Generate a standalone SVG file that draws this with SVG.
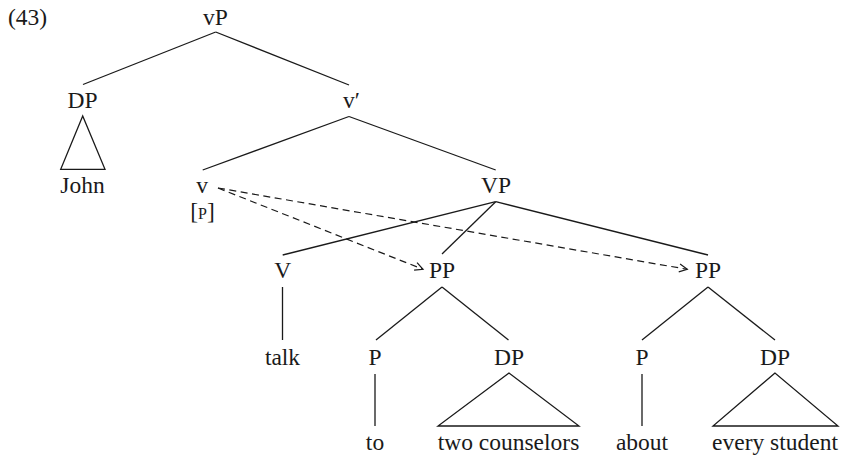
<svg xmlns="http://www.w3.org/2000/svg" width="851" height="456" viewBox="0 0 851 456" font-family="'Liberation Serif', 'Times New Roman', serif">
<defs>
<style>
text{font-family:'Liberation Serif','Times New Roman',serif;font-size:23.5px;fill:#1a1a1a;text-anchor:middle}
.edge{stroke:#1a1a1a;stroke-width:1.3;fill:none}
.dash{stroke:#1a1a1a;stroke-width:1.2;fill:none;stroke-dasharray:7 4.5}
.tri{stroke:#1a1a1a;stroke-width:1.3;fill:none;stroke-linejoin:miter}
.sc{font-size:16px}
</style>
<marker id="arr" markerUnits="userSpaceOnUse" markerWidth="12" markerHeight="12" viewBox="0 0 12 12" refX="10" refY="6" orient="auto">
<path d="M2,2 L10,6 L2,10" stroke="#1a1a1a" stroke-width="1.2" fill="none"/>
</marker>
</defs>
<rect width="851" height="456" fill="#fff"/>
<text x="8" y="25" style="text-anchor:start">(43)</text>
<g id="edges">
<line class="edge" x1="215.7" y1="32" x2="83" y2="84.5"/>
<line class="edge" x1="215.7" y1="32" x2="349" y2="85"/>
<line class="edge" x1="349" y1="116.5" x2="202.7" y2="170"/>
<line class="edge" x1="349" y1="116.5" x2="495.7" y2="170"/>
<line class="edge" x1="495.7" y1="201.7" x2="282.7" y2="255"/>
<line class="edge" x1="495.7" y1="201.7" x2="442" y2="254"/>
<line class="edge" x1="495.7" y1="201.7" x2="708" y2="255"/>
<line class="edge" x1="282.5" y1="287" x2="282.5" y2="340"/>
<line class="edge" x1="442" y1="287" x2="376" y2="340"/>
<line class="edge" x1="442" y1="287" x2="508.5" y2="340"/>
<line class="edge" x1="708" y1="287" x2="642" y2="340"/>
<line class="edge" x1="708" y1="287" x2="775" y2="340"/>
<line class="edge" x1="375" y1="374" x2="375" y2="426"/>
<line class="edge" x1="642" y1="374" x2="642" y2="426"/>
<line class="dash" x1="218" y1="188" x2="423" y2="269.3" marker-end="url(#arr)"/>
<line class="dash" x1="218" y1="188" x2="687.3" y2="269.3" marker-end="url(#arr)"/>
</g>
<g id="n-vP"><text x="215.5" y="25">vP</text></g>
<g id="n-DP1"><text x="82.5" y="108">DP</text>
<polygon class="tri" points="82.7,116 60.7,169.3 105,169.3"/></g>
<g id="n-John"><text x="82.5" y="193">John</text></g>
<g id="n-vbar"><text x="343" y="108" style="text-anchor:start">v′</text></g>
<g id="n-v"><text x="202" y="193">v</text>
<text x="202.5" y="219">[<tspan class="sc">P</tspan>]</text></g>
<g id="n-VP"><text x="496" y="193">VP</text></g>
<g id="n-V"><text x="282.7" y="278">V</text></g>
<g id="n-PP1"><text x="442" y="278">PP</text></g>
<g id="n-PP2"><text x="708" y="278">PP</text></g>
<g id="n-talk"><text x="282.5" y="365">talk</text></g>
<g id="n-P1"><text x="375" y="365">P</text></g>
<g id="n-DP2"><text x="509" y="365">DP</text>
<polygon class="tri" points="509,373 438,426 579,426"/></g>
<g id="n-P2"><text x="642" y="365">P</text></g>
<g id="n-DP3"><text x="775" y="365">DP</text>
<polygon class="tri" points="775,373 713,426 838,426"/></g>
<g id="n-to"><text x="375" y="450">to</text></g>
<g id="n-two"><text x="508.5" y="450">two counselors</text></g>
<g id="n-about"><text x="642" y="450">about</text></g>
<g id="n-every"><text x="775" y="450">every student</text></g>
</svg>
